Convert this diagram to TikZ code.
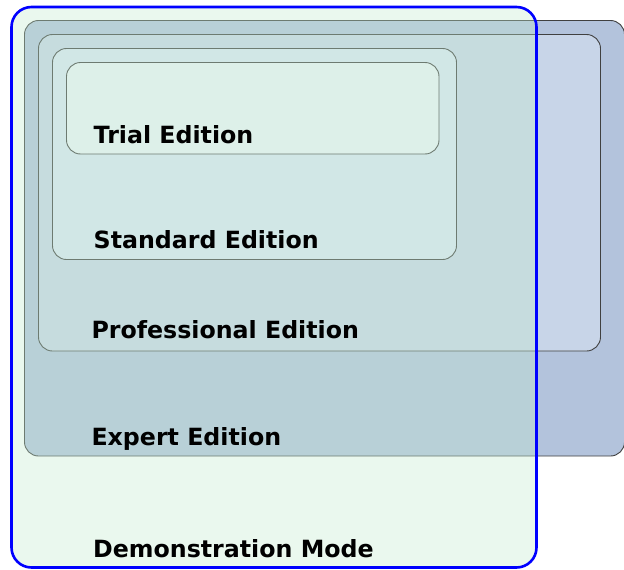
\documentclass[tikz,border=0pt]{standalone}
\usepackage{fontspec}
\setmainfont{DejaVu Sans}
\usepackage{tikz}
\usetikzlibrary{arrows,shapes}
\definecolor{expertblue}{RGB}{179,195,220}
\definecolor{profblue}{RGB}{200,213,232}
\definecolor{standardblue}{RGB}{218,229,243}
\definecolor{trialblue}{RGB}{236,243,249}
\definecolor{demomint}{RGB}{195,235,206}
\tikzstyle{edition}=[draw=black!75,line width=0.9pt,rounded corners=14pt]
\tikzstyle{demomode}=[draw=blue,line width=2.6pt,rounded corners=20pt]
\tikzstyle{label}=[anchor=base west,inner sep=0pt,font=\fontsize{23.7}{27}\selectfont\bfseries]

\begin{document}
\begin{tikzpicture}[x=1pt,y=-1pt]
    \useasboundingbox (0,0) rectangle (624,570);
    % First we draw the editions, outermost first
    \foreach \x/\y/\X/\Y/\col in {24.5/20.5/624.5/456/expertblue, 38.5/34.5/600.5/351/profblue,
                                  52.5/48.5/456.5/259.5/standardblue, 66.5/62.5/439/154/trialblue}
        \draw[edition, fill=\col] (\x,\y) rectangle (\X,\Y);
    % Demonstration mode lies over all of them
    \fill[demomint, fill opacity=0.35, rounded corners=20pt] (11.5,7) rectangle (536.5,567.5);
    \draw[demomode] (11.5,7) rectangle (536.5,567.5);
    % Then the names of the editions
    \foreach \pos/\name/\text in {{(93.5,143)/trial/Trial Edition}, {(93.5,248.5)/standard/Standard Edition},
                                  {(91.3,338)/professional/Professional Edition}, {(91.3,445)/expert/Expert Edition},
                                  {(93,557)/demo/Demonstration Mode}}
        \node[label] (\name) at \pos {\text};
\end{tikzpicture}
\end{document}
